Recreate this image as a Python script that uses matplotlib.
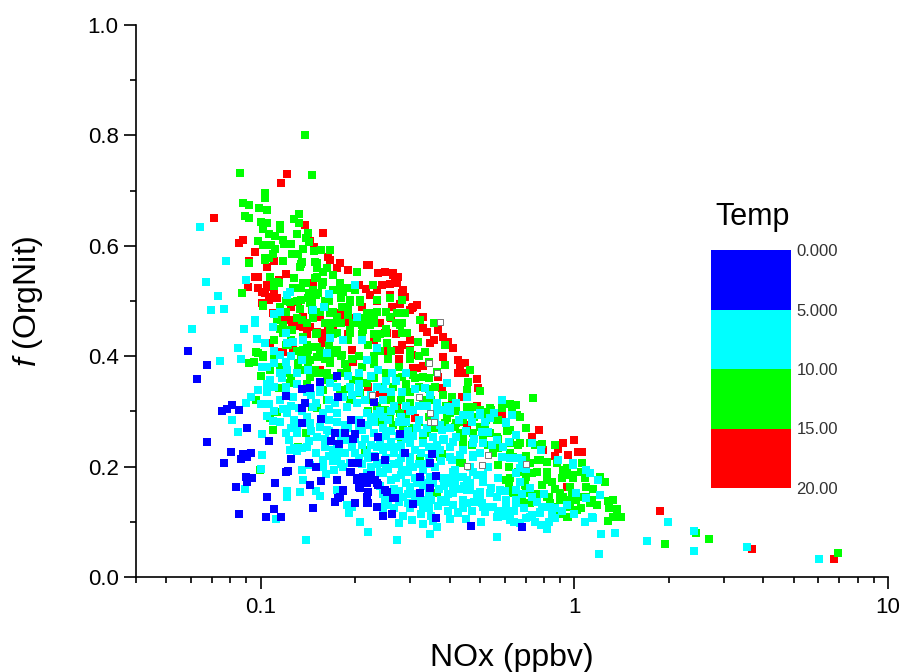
"""
f(OrgNit) against NOx, coloured by temperature bin.
Points are (NOx ppbv, f(OrgNit)) read off the figure by eye.
"""

import numpy as np
import matplotlib
matplotlib.use("Agg")
import matplotlib.pyplot as plt
from matplotlib.colors import ListedColormap
from matplotlib.ticker import FixedLocator, NullFormatter

plt.rcParams['font.family'] = ['Liberation Sans', 'DejaVu Sans']
plt.rcParams['mathtext.fontset'] = 'custom'
plt.rcParams['mathtext.it'] = 'Liberation Sans:italic'
plt.rcParams['mathtext.rm'] = 'Liberation Sans'

# 15-20 C
red_points = [
    (.121,.730),(.116,.714),(.071,.650),(.138,.638),(.158,.623),(.088,.610),(.085,.605),(.096,.589),
    (.143,.609),(.148,.598),(.164,.580),(.166,.574),(.092,.572),(.218,.565),(.179,.569),(.175,.560),
    (.190,.556),(.105,.562),(.110,.572),(.098,.543),(.120,.549),(.091,.525),(.098,.523),(.103,.514),
    (.114,.538),(.205,.529),(.216,.522),(.107,.525),(.110,.514),(.113,.505),(.106,.502),(.147,.533),
    (.101,.496),(.109,.478),(.126,.498),(.136,.471),(.179,.476),(.155,.471),(.222,.565),(.249,.553),
    (.264,.551),(.274,.543),(.267,.534),(.258,.530),(.284,.520),(.243,.529),(.235,.520),(.223,.510),
    (.258,.510),(.288,.507),(.278,.495),(.315,.493),(.304,.487),(.262,.489),(.288,.478),(.329,.471),
    (.329,.451),(.339,.444),(.368,.448),(.382,.435),(.358,.429),(.346,.424),(.395,.426),(.410,.415),
    (.282,.420),(.299,.411),(.304,.402),(.272,.411),(.275,.395),(.382,.399),(.425,.393),(.447,.388),
    (.432,.384),(.315,.379),(.329,.382),(.425,.370),(.447,.370),(.368,.362),(.488,.359),(.492,.342),
    (.379,.342),(.438,.326),(.253,.442),(.488,.310),(.272,.308),(.288,.297),(.407,.315),(.587,.295),
    (.771,.266),(.997,.248),(.919,.243),(.884,.232),(.792,.230),(1.03,.226),(1.06,.226),(.955,.221),
    (.866,.219),(.945,.163),(.730,.254),(.455,.275),(.310,.288),(.240,.333),(.253,.326),(.144,.453),
    (.160,.429),(.196,.411),(.197,.390),(.155,.375),(.210,.351),(.118,.408),(.107,.424),(.126,.456),
    (.136,.453),(.183,.462),(.158,.442),(.127,.415),(.151,.444),(.164,.447),(.220,.344),(.125,.490),
    (.118,.470),(.130,.455),(.140,.440),(.160,.460),(.170,.450),(.190,.440),(.200,.470),(.210,.490),
    (.225,.470),(.240,.460),(.235,.500),(.260,.470),(.270,.440),(.250,.410),(.230,.430),(.300,.430),
    (.236,.551),(.264,.547),(.272,.533),(.283,.514),(.299,.484),(.306,.489),(.096,.543),(.105,.529),
    (.106,.507),(.101,.516),(.131,.498),(.175,.478),(.124,.466),(.157,.433),(.193,.462),(.249,.442),
    (.299,.406),(.278,.411),(.158,.424),(.196,.411),(.115,.408),(.306,.379),
    (1.87,.120),(3.69,.050),(6.73,.033),
]

# 10-15 C
green_points = [
    (.138,.800),(.086,.732),(.146,.728),(.103,.695),(.103,.687),(.088,.678),(.092,.674),(.099,.668),
    (.105,.665),(.089,.654),(.092,.650),(.132,.658),(.128,.649),(.132,.641),(.100,.643),(.105,.641),
    (.115,.638),(.115,.630),(.102,.630),(.106,.621),(.111,.618),(.130,.621),(.141,.623),(.139,.614),
    (.098,.609),(.118,.610),(.102,.601),(.119,.603),(.125,.603),(.108,.601),(.142,.607),(.136,.594),
    (.111,.594),(.148,.591),(.156,.592),(.166,.592),(.109,.585),(.126,.585),(.131,.585),(.106,.578),
    (.103,.574),(.092,.569),(.118,.572),(.135,.571),(.133,.562),(.149,.571),(.151,.560),(.163,.560),
    (.202,.553),(.170,.547),(.107,.543),(.128,.542),(.151,.543),(.113,.534),(.110,.527),(.139,.533),
    (.158,.534),(.179,.533),(.175,.520),(.134,.523),(.087,.514),(.147,.520),(.152,.514),(.183,.516),
    (.141,.505),(.193,.498),(.207,.498),(.102,.491),(.144,.496),(.124,.498),(.181,.489),(.120,.480),
    (.133,.485),(.146,.484),(.218,.478),(.166,.478),(.740,.324),(.589,.306),(.624,.313),(.651,.312),
    (.540,.306),(.671,.290),(.700,.270),(.790,.241),(.868,.239),(1.25,.172),(1.21,.181),(1.28,.138),
    (1.33,.139),(1.37,.123),(1.41,.109),(1.33,.109),(1.28,.101),(1.29,.125),(1.18,.130),(1.14,.139),
    (1.06,.145),(1.02,.121),(.955,.109),(.969,.127),(.900,.139),(.837,.134),(.919,.145),(1.01,.152),
    (1.06,.207),(.990,.185),(.945,.197),(.880,.207),(.820,.208),(.768,.212),(.722,.207),(.910,.179),
    (.848,.172),(.790,.167),(.735,.188),(.695,.172),(.703,.152),(.651,.143),(.722,.134),(.605,.176),
    (.570,.203),(.550,.225),(.624,.225),(.969,.163),(1.01,.139),(1.09,.163),(1.12,.134),(.364,.152),
    (.322,.214),(.379,.223),(.438,.207),(.465,.375),(.458,.353),(.500,.337),(.455,.339),(.517,.299),
    (.541,.303),(.570,.284),(.442,.252),(.392,.288),(.417,.272),(.432,.261),(.373,.303),(.407,.326),
    (.455,.308),(.358,.460),(.386,.420),(.322,.466),(.283,.460),(.235,.480),(.317,.426),(.253,.424),
    (.235,.433),(.283,.442),(.334,.408),(.386,.384),(.364,.371),(.306,.366),(.283,.362),(.258,.370),
    (.329,.362),(.264,.344),(.240,.344),(.258,.290),(.278,.297),(.249,.303),(.264,.275),(.304,.270),
    (.329,.257),(.386,.279),(.0914,.388),(.0967,.408),(.102,.402),(.114,.342),(.0967,.321),(.113,.299),
    (.107,.288),(.109,.266),(.131,.236),(.0996,.194),(.139,.261),(.151,.306),(.163,.321),(.146,.308),
    (.121,.447),(.136,.411),(.131,.375),(.124,.351),(.141,.388),(.151,.399),(.166,.388),(.175,.411),
    (.189,.375),(.207,.333),(.218,.351),(.193,.321),(.151,.370),(.144,.362),(.158,.339),(.175,.442),
    (.193,.447),(.212,.447),(.134,.399),(.147,.417),(.163,.357),(.179,.339),(.197,.357),(.218,.321),
    (.215,.230),(.180,.520),(.190,.490),(.200,.460),(.170,.480),(.210,.440),(.220,.420),(.230,.440),
    (.240,.410),(.220,.470),(.250,.450),(.190,.430),(.170,.440),(.160,.500),(.200,.520),(.180,.460),
    (.160,.460),(.150,.440),(.130,.470),(.115,.450),(.110,.430),(.125,.430),(.140,.420),(.165,.420),
    (.180,.400),(.205,.400),(.230,.385),(.255,.395),(.275,.380),(.300,.395),(.320,.345),(.345,.340),
    (.300,.335),(.280,.320),(.260,.320),(.235,.310),(.220,.300),(.240,.280),(.285,.270),(.345,.290),
    (.420,.300),(.480,.290),(.520,.270),(.570,.250),(.610,.265),(.660,.240),(.620,.200),(.660,.190),
    (.700,.220),(.750,.240),(.820,.190),(.870,.160),(.830,.145),(.760,.150),(.930,.185),(.980,.150),
    (1.08,.180),(1.15,.160),(1.05,.125),(.900,.115),(.620,.165),(.470,.240),(.510,.250),(.540,.260),
    (.103,.578),(.118,.572),(.134,.567),(.151,.569),(.158,.553),(.110,.534),(.114,.533),(.136,.533),
    (.149,.542),(.157,.529),(.179,.533),(.170,.520),(.188,.524),(.228,.529),(.207,.502),(.235,.502),
    (.258,.505),(.283,.502),(.127,.524),(.142,.514),(.124,.498),(.146,.496),(.102,.493),(.160,.493),
    (.193,.502),(.223,.478),(.230,.475),(.272,.478),(.288,.478),(.258,.471),(.134,.502),(.113,.466),
    (.118,.457),(.126,.447),(.135,.466),(.147,.469),(.175,.471),(.210,.457),(.223,.457),(.197,.460),
    (.278,.457),(.293,.442),(.250,.442),(.118,.442),(.136,.435),(.151,.442),(.166,.447),(.193,.442),
    (.122,.420),(.141,.411),(.151,.417),(.170,.411),(.181,.402),(.166,.393),(.144,.393),(.131,.388),
    (.136,.375),(.149,.375),(.163,.370),(.098,.406),(.102,.399),(.121,.370),(.107,.375),
    (.401,.297),(.475,.308),(.565,.284),(.632,.308),(.658,.293),(.624,.266),(.700,.270),(.671,.243),
    (.722,.243),(.475,.261),(.442,.243),(.373,.217),(.432,.207),(.570,.203),(.777,.212),(.762,.190),
    (.820,.176),(.919,.194),(.990,.179),(1.05,.190),(.900,.152),(.820,.145),(.969,.139),(1.09,.145),
    (.624,.179),(.700,.181),(.695,.167),(.635,.152),(.735,.149),(.683,.139),(.945,.109),(.850,.127),
    (.523,.284),(.442,.284),(.420,.279),(.500,.272),(.565,.254),(.624,.243),(.635,.217),(.530,.239),
    (.570,.234),(.500,.303),
    (.140,.350),(.160,.370),(.170,.360),(.190,.340),(.205,.360),(.230,.360),(.250,.370),(.270,.360),
    (.290,.350),(.310,.360),(.345,.360),(.360,.345),(.380,.330),(.390,.310),(.350,.320),(.330,.320),
    (.300,.315),(.270,.305),(.250,.290),(.290,.290),(.320,.280),(.340,.260),(.360,.270),(.300,.260),
    (.280,.250),(.400,.270),(.430,.280),(.345,.390),(.320,.400),(.300,.410),(.260,.410),(.230,.400),
    (.210,.380),(.185,.385),(.170,.405),(.155,.410),(.140,.405),(.130,.410),(.120,.420),(.110,.400),
    (.115,.380),(.125,.360),(.140,.375),(.100,.365),(.095,.390),(.180,.370),(.160,.395),(.195,.395),
    (.120,.500),(.115,.490),(.130,.500),(.150,.510),(.165,.500),(.155,.480),(.180,.505),(.140,.460),
    (.170,.460),(.190,.475),(.210,.470),(.230,.460),(.250,.480),(.270,.460),(.240,.440),
    (2.44,.080),(2.69,.069),(1.95,.060),(6.94,.043),
]

# 5-10 C
cyan_points = [
    (.0642,.634),(.0776,.572),(.067,.534),(.0733,.509),(.0695,.484),(.0764,.485),(.0899,.538),(.200,.529),
    (.165,.513),(.124,.516),(.121,.511),(.147,.484),(.159,.489),(.203,.471),(.110,.476),(.115,.480),
    (.096,.466),(.0605,.449),(.0887,.449),(.096,.460),(.109,.453),(.0848,.415),(.0743,.391),(.0866,.395),
    (.0975,.431),(.103,.424),(.105,.380),(.110,.388),(.115,.402),(.101,.380),(.117,.360),(.107,.357),
    (.098,.339),(.105,.335),(.093,.326),(.090,.315),(.100,.313),(.106,.313),(.081,.284),(.0848,.263),
    (.101,.259),(.105,.292),(.109,.283),(.121,.297),(.128,.285),(.118,.305),(.135,.300),(.123,.248),
    (.142,.246),(.101,.221),(.100,.196),(.0892,.159),(.121,.156),(.121,.145),(.133,.154),(.124,.230),
    (.128,.233),(.135,.234),(.130,.228),(.135,.194),(.144,.203),(.161,.187),(.171,.194),(.136,.176),
    (.150,.156),(.155,.147),(.175,.158),(.191,.116),(.207,.100),(.220,.082),(.139,.067),(.112,.105),
    (.189,.130),(.195,.127),(.158,.212),(.158,.200),(.170,.230),(.178,.226),(.151,.254),(.163,.266),
    (.188,.248),(.196,.284),(.188,.308),(.203,.315),(.193,.344),(.183,.326),(.175,.297),(.210,.266),
    (.218,.297),(.218,.393),(.210,.429),(.183,.429),(.166,.433),(.136,.429),(.121,.424),(.127,.426),
    (.141,.375),(.166,.351),(.155,.335),(.127,.326),(.132,.306),(.147,.308),(.158,.297),(.155,.272),
    (.144,.279),(.121,.375),(.135,.393),(.120,.442),(.163,.406),(.218,.225),(.193,.207),(.183,.199),
    (.218,.188),(.587,.321),(.392,.351),(.455,.326),(.420,.315),(.364,.315),(.379,.303),(.334,.342),
    (.282,.335),(.346,.330),(.306,.303),(.237,.375),(.262,.370),(.235,.415),(.442,.293),(.500,.293),
    (.556,.297),(.605,.281),(.632,.293),(.507,.263),(.530,.263),(.651,.257),(.735,.243),(.379,.266),
    (.355,.254),(.329,.243),(.432,.221),(.475,.221),(.407,.212),(.299,.243),(.243,.236),(.258,.236),
    (.299,.217),(.275,.207),(.245,.188),(.283,.194),(.306,.199),(.329,.194),(.417,.194),(.465,.199),
    (.425,.181),(.455,.176),(.510,.172),(.410,.152),(.465,.158),(.500,.154),(.541,.161),(.565,.145),
    (.605,.139),(.651,.134),(.605,.125),(.538,.127),(.507,.134),(.455,.134),(.368,.129),(.425,.118),
    (.517,.118),(.565,.109),(.624,.103),(.671,.098),(.700,.107),(.735,.112),(.820,.087),(.866,.107),
    (.777,.118),(.837,.127),(1.22,.078),(1.35,.080),(1.15,.107),(1.21,.149),(1.09,.143),(1.12,.188),
    (1.19,.176),(.990,.203),(.785,.230),(.722,.161),(.671,.172),(.651,.158),(.735,.145),(.565,.072),
    (.272,.067),(.346,.078),(.329,.096),(.355,.101),(.304,.103),(.275,.098),(.294,.134),(.334,.139),
    (.249,.139),(.299,.163),(.237,.207),(.346,.181),
    (.200,.250),(.215,.250),(.230,.260),(.245,.270),(.260,.265),(.275,.255),(.290,.280),(.305,.255),
    (.320,.285),(.340,.270),(.360,.280),(.230,.220),(.250,.215),(.265,.225),(.285,.225),(.205,.215),
    (.225,.200),(.255,.195),(.270,.180),(.290,.170),(.265,.160),(.240,.165),(.225,.175),(.315,.170),
    (.330,.165),(.360,.200),(.380,.180),(.395,.170),(.375,.210),(.345,.215),(.225,.330),(.245,.320),
    (.205,.350),(.235,.345),(.225,.290),(.260,.300),(.275,.280),(.240,.300),(.175,.260),(.165,.285),
    (.185,.275),(.205,.285),(.160,.250),(.175,.235),(.200,.225),(.210,.205),(.245,.150),(.275,.135),
    (.310,.150),(.350,.140),(.395,.120),(.350,.110),(.470,.120),(.440,.140),(.490,.185),(.530,.200),
    (.570,.180),(.600,.155),(.570,.120),(.640,.120),(.480,.250),(.450,.265),(.410,.245),(.500,.225),
    (.545,.240),(.590,.235),(.620,.245),(.660,.215),(.700,.195),(.680,.150),(.760,.135),(.800,.150),
    (.870,.125),(.910,.120),(.690,.125),(.750,.100),(.640,.100),(.780,.095),(.830,.100),(.950,.130),
    (1.00,.115),(1.08,.100),(.590,.110),(.395,.150),(.300,.125),(.325,.115),(.255,.130),
    (.442,.181),(.475,.190),(.510,.185),(.410,.190),(.410,.158),(.455,.158),(.500,.145),(.538,.152),
    (.579,.158),(.442,.134),(.510,.127),(.550,.127),(.605,.134),(.651,.139),(.624,.116),(.722,.109),
    (.777,.116),(.850,.112),(.425,.116),(.570,.109),(.465,.170),(.373,.230),(.401,.217),(.442,.230),
    (.475,.217),(.382,.248),(.420,.254),(.475,.243),(.510,.243),(.565,.248),(.587,.217),(.624,.216),
    (.671,.197),(.651,.188),(.683,.212),(.465,.293),(.500,.297),(.538,.288),(.605,.279),(.401,.270),
    (.373,.275),(.364,.308),(.395,.308),(.990,.207),(1.09,.194),(1.19,.176),(1.01,.152),(.884,.212),
    (1.14,.109),(.790,.127),
    (.150,.315),(.165,.305),(.172,.315),(.195,.330),(.205,.335),(.215,.320),(.175,.280),(.165,.265),
    (.180,.255),(.190,.270),(.205,.270),(.220,.275),(.230,.280),(.235,.295),(.245,.290),(.255,.285),
    (.265,.310),(.250,.255),(.240,.245),(.225,.240),(.210,.240),(.195,.235),(.185,.225),(.220,.215),
    (.235,.205),(.245,.230),(.260,.245),(.270,.235),(.280,.240),(.290,.250),(.295,.265),(.280,.290),
    (.300,.300),(.315,.270),(.330,.260),(.310,.230),(.325,.225),(.345,.235),(.365,.240),(.385,.250),
    (.400,.235),(.360,.225),(.340,.205),(.320,.205),(.300,.205),(.280,.215),(.265,.205),(.250,.200),
    (.240,.190),(.235,.235),(.260,.175),(.280,.185),(.295,.190),(.310,.180),(.325,.175),(.340,.170),
    (.355,.170),(.370,.160),(.385,.165),(.400,.180),(.415,.170),(.430,.160),(.445,.165),(.295,.150),
    (.275,.155),(.265,.150),(.285,.145),(.310,.135),(.320,.140),(.345,.150),(.375,.140),(.390,.135),
    (.410,.130),(.440,.125),(.480,.135),(.490,.150),(.345,.125),(.330,.125),(.285,.110),(.265,.125),
    (.245,.125),(.400,.105),(.505,.100),(.450,.105),(.365,.090),
    (.120,.330),(.125,.310),(.115,.320),(.110,.300),(.115,.280),(.125,.270),(.130,.275),(.140,.290),
    (.145,.265),(.130,.260),(.120,.260),(.140,.235),(.150,.225),(.165,.220),(.160,.235),(.175,.215),
    (.180,.205),(.170,.210),(.110,.410),(.120,.390),(.125,.400),(.130,.350),(.140,.335),(.115,.370),
    (.105,.350),(.110,.345),(.120,.345),(.130,.370),(.145,.330),(.165,.320),(.155,.350),(.175,.345),
    (.190,.365),(.205,.370),(.225,.365),(.250,.355),(.270,.355),(.290,.370),(.310,.340),(.260,.335),
    (.245,.340),(.290,.310),(.320,.310),(.340,.310),(.360,.295),(.400,.300),(.430,.285),(.470,.280),
    (.520,.280),
    (1.99,.100),(1.70,.065),(2.41,.083),(2.41,.047),(3.55,.054),(6.03,.033),(1.20,.042),
]

# 0-5 C
blue_points = [
    (.0588,.409),(.0676,.384),(.0628,.359),(.120,.328),(.135,.341),(.144,.342),(.154,.353),(.175,.364),
    (.176,.326),(.138,.315),(.135,.306),(.0854,.303),(.081,.312),(.078,.304),(.0754,.301),(.0906,.270),
    (.135,.279),(.156,.286),(.194,.284),(.209,.279),(.173,.261),(.186,.261),(.200,.259),(.197,.250),
    (.168,.246),(.178,.241),(.0676,.245),(.106,.246),(.0805,.226),(.0762,.207),(.088,.223),(.0934,.225),
    (.0866,.214),(.0906,.217),(.125,.214),(.090,.181),(.094,.179),(.0906,.172),(.0836,.163),(.120,.190),
    (.122,.192),(.111,.170),(.150,.199),(.142,.207),(.144,.167),(.156,.174),(.175,.176),(.105,.145),
    (.147,.125),(.0854,.114),(.104,.109),(.110,.123),(.116,.109),(.173,.136),(.179,.145),(.183,.156),
    (.200,.134),(.218,.134),(.196,.207),(.204,.207),(.194,.190),(.203,.176),(.212,.181),(.207,.161),
    (.218,.170),(.220,.154),(.230,.317),(.237,.254),(.278,.259),(.232,.217),(.249,.212),(.288,.225),
    (.351,.223),(.346,.207),(.361,.183),(.346,.161),(.322,.181),(.322,.152),(.225,.185),(.232,.176),
    (.237,.167),(.253,.154),(.264,.143),(.235,.127),(.262,.114),(.245,.110),(.361,.107),(.468,.092),
    (.683,.090),(.306,.132),(.193,.190),(.203,.179),(.212,.176),(.225,.181),(.235,.170),(.249,.158),
    (.220,.154),(.205,.163),(.183,.158),(.176,.143),(.218,.145),(.200,.134),(.220,.134),(.268,.143),
]

# white squares, no temperature value
no_temp_nox = [.373, .343, .364, .319, .346, .346, .358, .530, .507, .455, .700, .227]
no_temp_forg = [.462, .388, .370, .326, .297, .281, .281, .221, .203, .201, .205, .330]

temp_levels = [0, 5, 10, 15, 20]
temp_labels = ['0.000', '5.000', '10.00', '15.00', '20.00']
temp_colors = ['#0000ff', '#00ffff', '#00ff00', '#ff0000']


def main():
    fig = plt.figure(figsize=(9.03, 6.72), dpi=100)
    ax = fig.add_axes([136 / 903, 95 / 672, 752 / 903, 552 / 672])

    for points, color in zip([red_points, green_points, cyan_points, blue_points],
                             ['#ff0000', '#00ff00', '#00ffff', '#0000ff']):
        pts = np.array(points)
        ax.scatter(pts[:, 0], pts[:, 1], s=31, marker='s', color=color, linewidths=0, zorder=3)
    ax.scatter(no_temp_nox, no_temp_forg, s=20, marker='s', facecolors='white',
               edgecolors='#777777', linewidths=0.7, zorder=4)

    ax.set_xscale('log')
    ax.set_xlim(0.04, 10)
    ax.set_ylim(0, 1)
    ax.spines['top'].set_visible(False)
    ax.spines['right'].set_visible(False)
    ax.spines['left'].set_linewidth(1.2)
    ax.spines['bottom'].set_linewidth(1.2)

    ax.xaxis.set_major_locator(FixedLocator([0.1, 1, 10]))
    ax.set_xticklabels(['0.1', '1', '10'])
    ax.xaxis.set_minor_locator(FixedLocator([0.04, 0.05, 0.06, 0.07, 0.08, 0.09,
                                             0.2, 0.3, 0.4, 0.5, 0.6, 0.7, 0.8, 0.9,
                                             2, 3, 4, 5, 6, 7, 8, 9]))
    ax.xaxis.set_minor_formatter(NullFormatter())
    ax.set_yticks([0, 0.2, 0.4, 0.6, 0.8, 1.0])
    ax.set_yticks([0.1, 0.3, 0.5, 0.7, 0.9], minor=True)
    ax.tick_params(which='major', length=8.5, width=1.2, labelsize=16, pad=4)
    ax.tick_params(which='minor', length=4.5, width=1.2)
    ax.tick_params(axis='x', which='major', pad=6)

    ax.set_xlabel('NOx (ppbv)', fontsize=23, labelpad=18)
    ax.set_ylabel(r'$\mathit{f}$ (OrgNit)', fontsize=23, labelpad=31)

    # temperature key
    cax = fig.add_axes([711 / 903, (672 - 488) / 672, 80 / 903, 238 / 672])
    cax.pcolormesh([0, 1], temp_levels, np.arange(4).reshape(4, 1),
                   cmap=ListedColormap(temp_colors), shading='flat')
    cax.set_ylim(20, 0)
    cax.set_xticks([])
    cax.yaxis.tick_right()
    cax.set_yticks(temp_levels)
    cax.set_yticklabels(temp_labels, fontsize=12, color='#333333')
    cax.tick_params(axis='y', length=0, pad=4)
    for spine in cax.spines.values():
        spine.set_visible(False)
    fig.text(753 / 903, 1 - 217 / 672, 'Temp', fontsize=22, ha='center', va='center')

    fig.savefig('out.png', dpi=100)


if __name__ == "__main__":
    main()
